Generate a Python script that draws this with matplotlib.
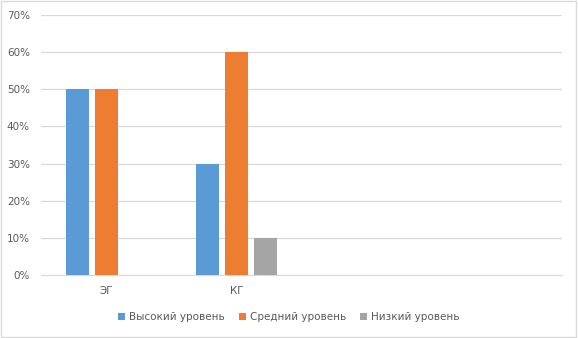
import matplotlib.pyplot as plt
import numpy as np

categories = ['ЭГ', 'КГ', '', '']
high = [50, 30, 0, 0]
medium = [50, 60, 0, 0]
low = [0, 10, 0, 0]
series_names = ['Высокий уровень', 'Средний уровень', 'Низкий уровень']
colors = ['#5B9BD5', '#ED7D31', '#A5A5A5']

fig = plt.figure(figsize=(5.78, 3.38), dpi=100)
ax = fig.add_axes([0.0709, 0.1864, 0.9011, 0.7692])

x = np.arange(len(categories))
w = 0.177
step = 0.223
for i, (vals, name, c) in enumerate(zip([high, medium, low], series_names, colors)):
    ax.bar(x + (i - 1) * step, vals, width=w, color=c, label=name, zorder=3)

ax.set_xlim(-0.5, len(categories) - 0.5)
ax.set_ylim(0, 70)
ax.set_yticks(range(0, 71, 10))
ax.set_yticklabels([f'{v}%' for v in range(0, 71, 10)])
ax.set_xticks(x)
ax.set_xticklabels(categories)
ax.grid(axis='y', color='#D9D9D9', linewidth=0.9, zorder=0)
for s in ['top', 'right', 'left']:
    ax.spines[s].set_visible(False)
ax.spines['bottom'].set_color('#D9D9D9')
ax.tick_params(axis='both', length=0, colors='#595959', labelsize=7.5)
ax.tick_params(axis='y', pad=8)
ax.tick_params(axis='x', pad=8)

fig.legend(loc='center', bbox_to_anchor=(0.5, 0.062), ncol=3, frameon=False,
           fontsize=7.5, handlelength=0.7, handleheight=0.7, columnspacing=1.3,
           handletextpad=0.4, labelcolor='#595959')

fig.patches.append(plt.Rectangle((0.002, 0.003), 0.995, 0.994, transform=fig.transFigure,
                                 fill=False, edgecolor='#D9D9D9', linewidth=1))

fig.savefig('out.png', dpi=100)
